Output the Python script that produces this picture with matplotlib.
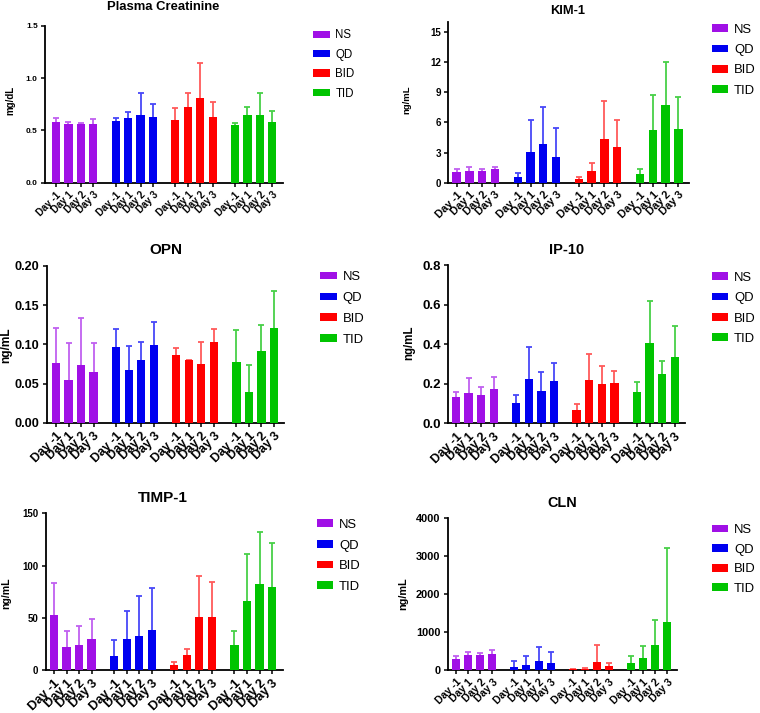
import matplotlib
matplotlib.use('Agg')
import matplotlib.pyplot as plt
import numpy as np
from matplotlib.ticker import FormatStrFormatter

plt.rcParams['font.family'] = ['Liberation Sans', 'DejaVu Sans']

# ---------------- data ----------------
groups = ['NS', 'QD', 'BID', 'TID']
days = ['Day -1', 'Day 1', 'Day 2', 'Day 3']

creatinine_mean = [[0.576, 0.557, 0.557, 0.557], [0.589, 0.621, 0.646, 0.624],
                   [0.602, 0.723, 0.812, 0.631], [0.548, 0.646, 0.643, 0.580]]
creatinine_sd = [[0.039, 0.019, 0.016, 0.048], [0.029, 0.059, 0.207, 0.131],
                 [0.111, 0.130, 0.334, 0.143], [0.019, 0.080, 0.217, 0.108]]

kim1_mean = [[1.10, 1.16, 1.16, 1.33], [0.53, 3.09, 3.82, 2.56],
             [0.37, 1.20, 4.36, 3.56], [0.83, 5.25, 7.72, 5.32]]
kim1_sd = [[0.23, 0.40, 0.20, 0.27], [0.40, 3.10, 3.66, 2.86],
           [0.16, 0.73, 3.79, 2.69], [0.50, 3.43, 4.28, 3.16]]

opn_mean = [[0.0762, 0.0545, 0.0732, 0.0647], [0.0966, 0.0672, 0.0800, 0.0987],
            [0.0860, 0.0796, 0.0745, 0.1034], [0.0770, 0.0391, 0.0910, 0.1204]]
opn_sd = [[0.0447, 0.0468, 0.0608, 0.0373], [0.0230, 0.0302, 0.0234, 0.0303],
          [0.0097, 0.0008, 0.0281, 0.0166], [0.0413, 0.0345, 0.0333, 0.0476]]

ip10_mean = [[0.135, 0.153, 0.145, 0.173], [0.104, 0.226, 0.165, 0.215],
             [0.067, 0.219, 0.199, 0.205], [0.157, 0.404, 0.249, 0.337]]
ip10_sd = [[0.025, 0.074, 0.037, 0.063], [0.037, 0.158, 0.093, 0.088],
           [0.032, 0.129, 0.092, 0.061], [0.052, 0.216, 0.067, 0.155]]

timp1_mean = [[52.6, 21.8, 23.7, 30.1], [13.1, 29.5, 32.4, 38.1],
              [4.8, 14.4, 50.3, 50.3], [23.7, 66.0, 82.4, 79.2]]
timp1_sd = [[30.7, 16.0, 18.6, 18.3], [15.4, 27.2, 38.1, 40.1],
            [3.2, 5.8, 39.4, 34.3], [13.2, 44.9, 49.6, 42.6]]

cln_mean = [[299, 387, 396, 422], [88, 141, 229, 185],
            [18, 26, 220, 97], [193, 325, 659, 1266]]
cln_sd = [[79, 79, 61, 97], [158, 237, 386, 290],
          [17, 18, 448, 79], [167, 299, 651, 1960]]

colors = ['#A010E6', '#0000F0', '#FF0000', '#00C400']
err_colors = ['#C060F0', '#4848F8', '#FF5A5A', '#48D048']

# ---------------- layout (pixels) ----------------
W, H = 760, 713
panels = [
    dict(title='Plasma Creatinine', ylabel='mg/dL', mean=creatinine_mean, sd=creatinine_sd,
         ylim=(0, 1.5), yticks=[0, 0.5, 1.0, 1.5], fmt='%.1f',
         box=(45, 283, 25.7, 182.7), xpad=(0.885, 0.86),
         tpos=(163, 5.8), tfs=9.4, lpos=(10, 100), lfs=7.0, ytfs=6.0, xtfs=7.0,
         legpos=(313, 64.5), legfs=8.3, pitch=18.6),
    dict(title='KIM-1', ylabel='ng/mL', mean=kim1_mean, sd=kim1_sd,
         ylim=(0, 16), yticks=[0, 3, 6, 9, 12, 15], fmt='%d',
         box=(448.3, 689.3, 21.7, 182.7), xpad=(0.65, 0.86),
         tpos=(567.7, 9.3), tfs=9.3, lpos=(406.7, 99.3), lfs=6.8, ytfs=7.0, xtfs=7.8,
         legpos=(711.7, 60.2), legfs=9.4, pitch=20.9),
    dict(title='OPN', ylabel='ng/mL', mean=opn_mean, sd=opn_sd,
         ylim=(0, 0.20), yticks=[0, 0.05, 0.10, 0.15, 0.20], fmt='%.2f',
         box=(46.7, 284, 266, 422.7), xpad=(0.74, 0.8),
         tpos=(165.7, 249), tfs=11, lpos=(6, 345), lfs=8.6, ytfs=9.1, xtfs=8.9,
         legpos=(320, 308.5), legfs=9.4, pitch=21.6),
    dict(title='IP-10', ylabel='ng/mL', mean=ip10_mean, sd=ip10_sd,
         ylim=(0, 0.8), yticks=[0, 0.2, 0.4, 0.6, 0.8], fmt='%.1f',
         box=(448.3, 685, 265, 423.3), xpad=(0.61, 0.82),
         tpos=(566.7, 249), tfs=10.5, lpos=(409.3, 343), lfs=8.3, ytfs=9.5, xtfs=9.0,
         legpos=(711.7, 308.3), legfs=9.4, pitch=21.1),
    dict(title='TIMP-1', ylabel='ng/mL', mean=timp1_mean, sd=timp1_sd,
         ylim=(0, 150), yticks=[0, 50, 100, 150], fmt='%d',
         box=(45.7, 282.7, 513.3, 670), xpad=(0.66, 0.85),
         tpos=(163.3, 496.7), tfs=11, lpos=(6.7, 592.7), lfs=7.6, ytfs=7.0, xtfs=9.2,
         legpos=(316.7, 555.8), legfs=9.4, pitch=21.2),
    dict(title='CLN', ylabel='ng/mL', mean=cln_mean, sd=cln_sd,
         ylim=(0, 4000), yticks=[0, 1000, 2000, 3000, 4000], fmt='%d',
         box=(447.7, 676.7, 518.3, 670), xpad=(0.68, 0.77),
         tpos=(562.7, 501.7), tfs=10.4, lpos=(403.3, 593.7), lfs=7.8, ytfs=7.9, xtfs=7.6,
         legpos=(711.7, 559.5), legfs=9.4, pitch=20.3),
]

S = 4.8  # group stride in bar units
BW = 0.66

fig = plt.figure(figsize=(W / 100, H / 100), dpi=100)

for p in panels:
    L, R, T, B = p['box']
    ax = fig.add_axes([L / W, 1 - B / H, (R - L) / W, (B - T) / H])
    handles = []
    allx = []
    for g, grp in enumerate(groups):
        xs = g * S + np.arange(len(days))
        allx.extend(xs)
        m = np.array(p['mean'][g], dtype=float)
        sd = np.array(p['sd'][g], dtype=float)
        bc = ax.bar(xs, m, width=BW, color=colors[g], zorder=3, label=grp)
        handles.append(bc)
        eb = ax.errorbar(xs, m, yerr=[np.zeros_like(sd), sd], fmt='none',
                         ecolor=err_colors[g], elinewidth=1.3, capsize=2.4,
                         capthick=1.3, zorder=2)
        for cl in eb.lines[1]:
            if np.allclose(cl.get_ydata(), m):
                cl.set_visible(False)
    last = 3 * S + 3
    ax.set_xlim(-p['xpad'][0], last + p['xpad'][1])
    ax.set_ylim(*p['ylim'])
    ax.set_yticks(p['yticks'])
    ax.yaxis.set_major_formatter(FormatStrFormatter(p['fmt']))
    ax.set_xticks(allx)
    ax.set_xticklabels(days * len(groups), rotation=45, ha='right', va='top',
                       rotation_mode='anchor', fontweight='bold', fontsize=p['xtfs'])
    for lab in ax.get_yticklabels():
        lab.set_fontweight('bold')
        lab.set_fontsize(p['ytfs'])
    for s in ('top', 'right'):
        ax.spines[s].set_visible(False)
    for s in ('left', 'bottom'):
        ax.spines[s].set_linewidth(1.3)
        ax.spines[s].set_color('black')
    ax.tick_params(axis='both', direction='out', length=3.2, width=1.1, pad=2)

    tfs_px = p['tfs'] * 100 / 72
    base_y = p['tpos'][1] + 0.358 * tfs_px
    fig.text(p['tpos'][0] / W, 1 - base_y / H, p['title'], ha='center', va='baseline',
             fontsize=p['tfs'], fontweight='bold')
    fig.text(p['lpos'][0] / W, 1 - p['lpos'][1] / H, p['ylabel'], ha='center', va='center',
             rotation=90, fontsize=p['lfs'], fontweight='bold')

    fs_px = p['legfs'] * 100 / 72
    ls = (p['pitch'] - 0.97 * fs_px) / fs_px
    ax.legend(handles=handles, loc='center left',
              bbox_to_anchor=(p['legpos'][0] / W, 1 - p['legpos'][1] / H),
              bbox_transform=fig.transFigure, frameon=False, fontsize=p['legfs'],
              handlelength=16.5 / fs_px, handleheight=7.0 / fs_px,
              handletextpad=6.0 / fs_px, labelspacing=ls, borderpad=0, borderaxespad=0)

fig.savefig('out.png', dpi=100)
